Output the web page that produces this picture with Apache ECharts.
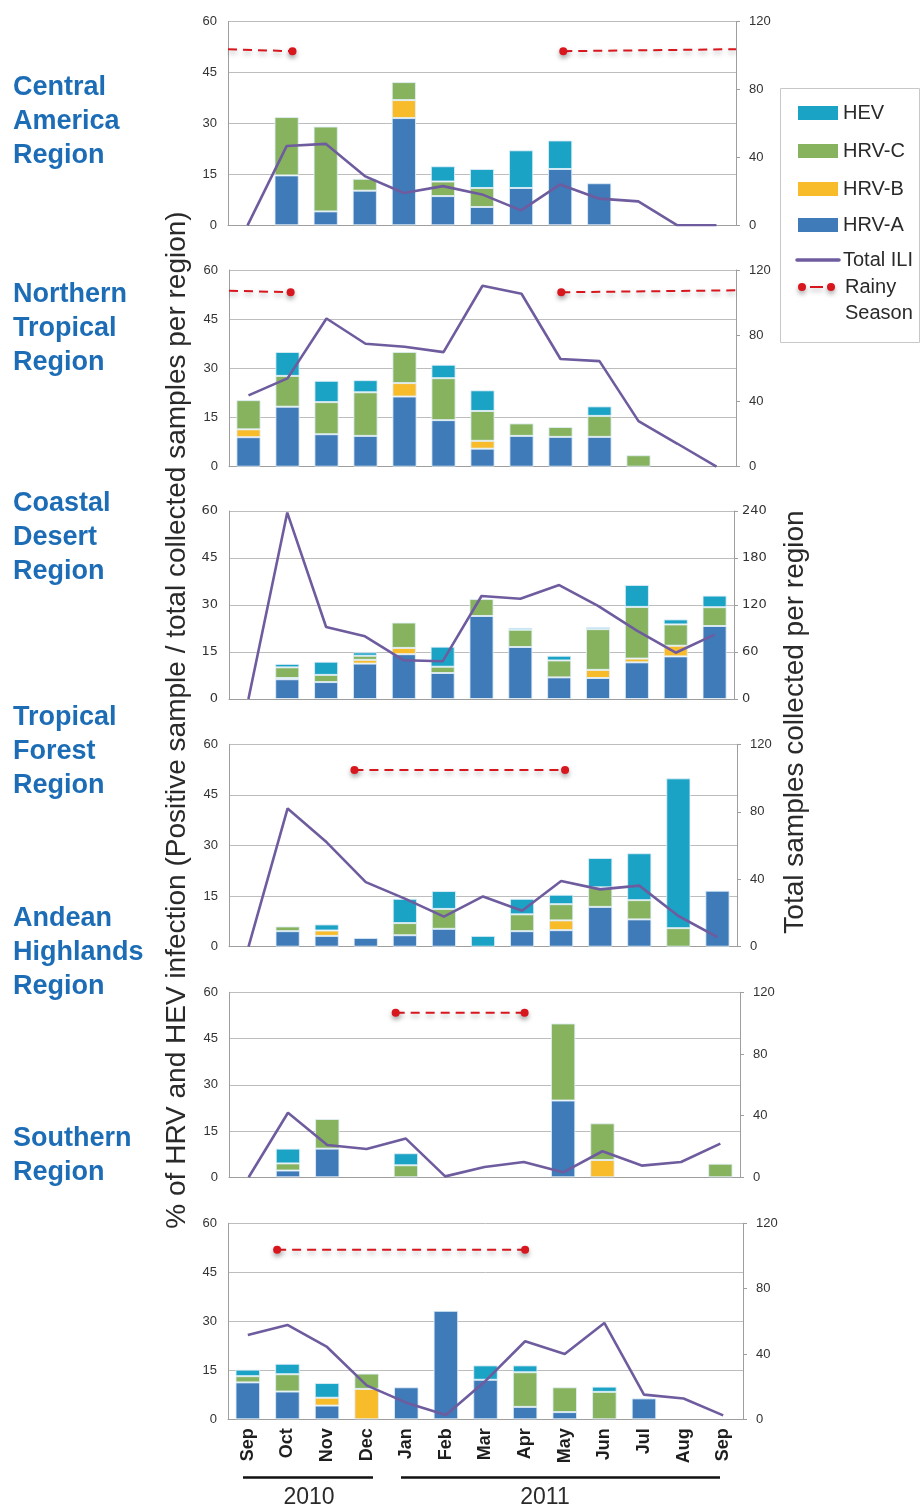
<!DOCTYPE html>
<html>
<head>
<meta charset="utf-8">
<script src="https://cdn.jsdelivr.net/npm/echarts/dist/echarts.min.js"></script>
<style>
  html, body { margin: 0; padding: 0; background: #fff; }
  #chart { width: 922px; height: 1511px; }
</style>
</head>
<body>
<div id="chart"></div>
<script>
// Months of the surveillance period (Sep 2010 – Sep 2011)
const months = ['Sep', 'Oct', 'Nov', 'Dec', 'Jan', 'Feb', 'Mar', 'Apr', 'May', 'Jun', 'Jul', 'Aug', 'Sep'];

// Central America Region (% positive per month; ILI = samples collected)
const centralA   = [0, 14.7, 4.1, 10.2, 31.6, 8.6, 5.4, 11.0, 16.6, 12.4, 0, 0, 0];
const centralB   = [0, 0, 0, 0, 5.3, 0, 0, 0, 0, 0, 0, 0, 0];
const centralC   = [0, 17.2, 25.0, 3.5, 5.3, 4.3, 5.6, 0, 0, 0, 0, 0, 0];
const centralHEV = [0, 0, 0, 0, 0, 4.5, 5.6, 11.1, 8.4, 0, 0, 0, 0];
const centralILI = [0, 46.7, 48.0, 29.0, 19.0, 23.1, 18.2, 8.8, 24.1, 15.7, 14.1, 0, 0];

// Northern Tropical Region
const northA   = [9.0, 18.3, 9.9, 9.4, 21.4, 14.2, 5.5, 9.4, 9.1, 9.1, 0, 0, 0];
const northB   = [2.4, 0, 0, 0, 4.1, 0, 2.4, 0, 0, 0, 0, 0, 0];
const northC   = [8.9, 9.4, 9.8, 13.3, 9.5, 12.8, 9.1, 3.8, 3.0, 6.4, 3.5, 0, 0];
const northHEV = [0, 7.3, 6.5, 3.7, 0, 4.1, 6.3, 0, 0, 2.9, 0, 0, 0];
const northILI = [43.5, 53.9, 90.4, 75.0, 73.2, 69.9, 110.4, 105.5, 65.7, 64.4, 27.8, 14.0, 0];

// Coastal Desert Region
const coastA   = [0, 6.3, 5.4, 11.3, 14.3, 8.3, 26.5, 16.6, 6.9, 6.7, 11.7, 13.6, 23.3];
const coastB   = [0, 0.4, 0, 1.2, 2.0, 0, 0, 0, 0, 2.6, 1.2, 3.4, 0];
const coastC   = [0, 3.4, 2.3, 1.3, 8.1, 2.0, 5.4, 5.5, 5.4, 13.0, 16.5, 6.8, 6.0];
const coastHEV = [0, 1.1, 4.2, 1.1, 0, 6.4, 0, 0.6, 1.5, 0.6, 7.0, 1.6, 3.7];
const coastILI = [0, 238, 91.9, 80, 49.4, 48.1, 131.5, 128, 145.5, 119, 87.2, 59.1, 82.1];

// Tropical Forest Region
const forestA   = [0, 4.6, 3.2, 2.6, 3.4, 5.3, 0, 4.6, 4.9, 11.8, 8.1, 0, 16.6];
const forestB   = [0, 0, 1.6, 0, 0, 0, 0, 0, 2.9, 0, 0, 0, 0];
const forestC   = [0, 1.4, 0, 0, 3.6, 5.9, 0, 5.0, 4.8, 5.8, 5.7, 5.5, 0];
const forestHEV = [0, 0, 1.8, 0, 7.2, 5.3, 3.2, 4.6, 2.8, 8.7, 13.9, 44.4, 0];
const forestILI = [0, 82.0, 61.9, 38.3, 28.5, 17.8, 29.8, 21.3, 38.9, 34.0, 36.2, 18.2, 5.7];

// Andean Highlands Region
const andesA   = [0, 2.2, 9.3, 0, 0, 0, 0, 0, 24.9, 0, 0, 0, 0];
const andesB   = [0, 0, 0, 0, 0, 0, 0, 0, 0, 5.6, 0, 0, 0];
const andesC   = [0, 2.3, 9.6, 0, 3.9, 0, 0, 0, 25.0, 11.9, 0, 0, 4.4];
const andesHEV = [0, 4.8, 0, 0, 3.9, 0, 0, 0, 0, 0, 0, 0, 0];
const andesILI = [0, 41.9, 21.0, 18.4, 25.1, 0.6, 6.7, 9.9, 3.2, 16.9, 7.6, 9.9, 21.8];

// Southern Region
const southA   = [11.3, 8.5, 4.2, 0, 9.8, 33.2, 12.1, 3.8, 2.2, 0, 6.4, 0, 0];
const southB   = [0, 0, 2.4, 9.3, 0, 0, 0, 0, 0, 0, 0, 0, 0];
const southC   = [1.9, 5.3, 0, 4.7, 0, 0, 0, 10.6, 7.6, 8.4, 0, 0, 0];
const southHEV = [2.0, 3.2, 4.5, 0, 0, 0, 4.4, 2.1, 0, 1.6, 0, 0, 0];
const southILI = [51.6, 57.8, 44.3, 20.8, 10.2, 2.7, 23.5, 47.8, 40.0, 59.0, 15.1, 12.7, 2.4];

// Rainy season spans: [[monthPos, %], [monthPos, %]] on a 0–13 month scale
const centralRain = [[[0, 51.9], [1.65, 51.3]], [[8.58, 51.3], [13, 51.9]]];
const northRain   = [[[0, 53.7], [1.58, 53.2]], [[8.52, 53.2], [13, 53.8]]];
const coastRain   = [];
const forestRain  = [[[3.21, 52.4], [8.6, 52.4]]];
const andesRain   = [[[4.24, 53.4], [7.52, 53.4]]];
const southRain   = [[[1.24, 51.9], [7.5, 51.9]]];

// Right-axis scales (total samples) per region
const rightMax      = [120, 120, 240, 120, 120, 120];
const rightInterval = [40, 40, 60, 40, 40, 40];

const regions = [
  { label: 'Central\nAmerica\nRegion',     A: centralA, B: centralB, C: centralC, HEV: centralHEV, ILI: centralILI, rain: centralRain },
  { label: 'Northern\nTropical\nRegion',   A: northA,   B: northB,   C: northC,   HEV: northHEV,   ILI: northILI,   rain: northRain },
  { label: 'Coastal\nDesert\nRegion',      A: coastA,   B: coastB,   C: coastC,   HEV: coastHEV,   ILI: coastILI,   rain: coastRain },
  { label: 'Tropical\nForest\nRegion',     A: forestA,  B: forestB,  C: forestC,  HEV: forestHEV,  ILI: forestILI,  rain: forestRain },
  { label: 'Andean\nHighlands\nRegion',    A: andesA,   B: andesB,   C: andesC,   HEV: andesHEV,   ILI: andesILI,   rain: andesRain },
  { label: 'Southern\nRegion',             A: southA,   B: southB,   C: southC,   HEV: southHEV,   ILI: southILI,   rain: southRain }
];

// Panel placement (pixels) and region-label placement
const layout = [
  { left: 228, right: 736, top: 21.7,   bottom: 225.3,  labelTop: 71 },
  { left: 229, right: 736, top: 270,    bottom: 466.7,  labelTop: 278 },
  { left: 229, right: 734, top: 511,    bottom: 699,    labelTop: 487 },
  { left: 229, right: 737, top: 744.3,  bottom: 946.7,  labelTop: 701 },
  { left: 229, right: 740, top: 992.3,  bottom: 1177.3, labelTop: 902 },
  { left: 228, right: 743, top: 1223.3, bottom: 1419.3, labelTop: 1122 }
];

const COLORS = {
  A: '#3f7ab9', B: '#f8bc2b', C: '#87b35e', HEV: '#1aa3c4',
  ili: '#6e5c9f', rain: '#d8161e', grid: '#bdbdbd', axis: '#9e9e9e',
  region: '#1c6db6', text: '#2a2a2a'
};
const FONT = '"Liberation Sans", Arial, sans-serif';
const FONT_ALT = '"DejaVu Sans", Verdana, sans-serif';

const grids = [], xAxes = [], yAxes = [], series = [];
const stackKeys = [['A', 'HRV-A'], ['B', 'HRV-B'], ['C', 'HRV-C'], ['HEV', 'HEV']];

regions.forEach((r, g) => {
  const L = layout[g];
  const isLast = g === regions.length - 1;
  const tickFont = g === 2 ? FONT_ALT : FONT;
  grids.push({ left: L.left, top: L.top, width: L.right - L.left, height: L.bottom - L.top });

  // category axis for bars and ILI line
  xAxes.push({
    type: 'category', gridIndex: g, data: months, boundaryGap: true,
    axisLine: { show: true, lineStyle: { color: COLORS.axis, width: 1 } },
    axisTick: { show: false },
    axisLabel: isLast ? {
      show: true, rotate: 90, interval: 0, margin: 9,
      fontFamily: FONT, fontWeight: 'bold', fontSize: 18, color: '#1e1e1e'
    } : { show: false }
  });
  // continuous month scale for rainy-season spans
  xAxes.push({ type: 'value', gridIndex: g, min: 0, max: 13, show: false });

  yAxes.push({
    type: 'value', gridIndex: g, position: 'left', min: 0, max: 60, interval: 15,
    axisLine: { show: true, lineStyle: { color: COLORS.axis } },
    axisTick: { show: false },
    splitLine: { show: true, lineStyle: { color: COLORS.grid, width: 1 } },
    axisLabel: { color: '#333', fontSize: 13, margin: 11, fontFamily: tickFont }
  });
  yAxes.push({
    type: 'value', gridIndex: g, position: 'right', min: 0, max: rightMax[g], interval: rightInterval[g],
    axisLine: { show: true, lineStyle: { color: COLORS.axis } },
    axisTick: { show: true, length: 4, lineStyle: { color: COLORS.axis } },
    splitLine: { show: false },
    axisLabel: { color: '#333', fontSize: 13, margin: g === 2 ? 8 : 13, fontFamily: tickFont }
  });

  stackKeys.forEach(([k, name]) => {
    series.push({
      type: 'bar', name, stack: 'panel' + g,
      xAxisIndex: 2 * g, yAxisIndex: 2 * g,
      barWidth: '62%',
      data: r[k].map(v => (v === 0 ? '-' : v)),
      itemStyle: { color: COLORS[k], borderColor: 'rgba(225,238,248,0.85)', borderWidth: 1 },
      emphasis: { disabled: true }, z: 2
    });
  });

  series.push({
    type: 'line', name: 'Total ILI',
    xAxisIndex: 2 * g, yAxisIndex: 2 * g + 1,
    data: r.ILI, symbol: 'none', smooth: false,
    lineStyle: { color: COLORS.ili, width: 2.6 },
    z: 4
  });

  r.rain.forEach(seg => {
    series.push({
      type: 'line', name: 'Rainy Season',
      xAxisIndex: 2 * g + 1, yAxisIndex: 2 * g,
      data: seg.map(p => ({
        value: p,
        symbol: (p[0] <= 0 || p[0] >= 13) ? 'none' : 'circle'
      })),
      symbolSize: 8,
      itemStyle: { color: COLORS.rain, shadowColor: 'rgba(0,0,0,0.35)', shadowBlur: 5, shadowOffsetY: 3 },
      lineStyle: { color: COLORS.rain, width: 2, type: [9, 6], shadowColor: 'rgba(0,0,0,0.3)', shadowBlur: 5, shadowOffsetY: 3 },
      z: 5
    });
  });
});

// Region names down the left side
const graphics = regions.map((r, g) => ({
  type: 'text', left: 13, top: layout[g].labelTop,
  style: { text: r.label, font: 'bold 27px ' + FONT, fill: COLORS.region, lineHeight: 34 }
}));

// Axis titles
graphics.push({
  type: 'text', x: 177, y: 720, rotation: Math.PI / 2,
  style: {
    text: '% of HRV and HEV infection (Positive sample / total collected samples per region)',
    font: '28px ' + FONT, fill: COLORS.text, align: 'center', verticalAlign: 'middle'
  }
});
graphics.push({
  type: 'text', x: 795, y: 722, rotation: Math.PI / 2,
  style: {
    text: 'Total samples collected per region',
    font: '28px ' + FONT, fill: COLORS.text, align: 'center', verticalAlign: 'middle'
  }
});

// Year brackets under the month axis
graphics.push(
  { type: 'line', shape: { x1: 243, y1: 1477.5, x2: 373, y2: 1477.5 }, style: { stroke: '#111', lineWidth: 2.5 } },
  { type: 'line', shape: { x1: 401, y1: 1477.5, x2: 720, y2: 1477.5 }, style: { stroke: '#111', lineWidth: 2.5 } },
  { type: 'text', x: 309, y: 1498, style: { text: '2010', font: '23px ' + FONT, fill: COLORS.text, align: 'center', verticalAlign: 'middle' } },
  { type: 'text', x: 545, y: 1498, style: { text: '2011', font: '23px ' + FONT, fill: COLORS.text, align: 'center', verticalAlign: 'middle' } }
);

// Legend panel
const legendItems = [['HEV', COLORS.HEV, 113], ['HRV-C', COLORS.C, 151], ['HRV-B', COLORS.B, 189], ['HRV-A', COLORS.A, 225]];
const legendChildren = [
  { type: 'rect', shape: { x: 780.5, y: 88.5, width: 139, height: 254 }, style: { fill: '#fff', stroke: '#c8c8c8', lineWidth: 1 } }
];
legendItems.forEach(([name, color, cy]) => {
  legendChildren.push(
    { type: 'rect', shape: { x: 798, y: cy - 7, width: 40, height: 14 }, style: { fill: color } },
    { type: 'text', x: 843, y: cy, style: { text: name, font: '20px ' + FONT, fill: COLORS.text, verticalAlign: 'middle' } }
  );
});
legendChildren.push(
  { type: 'line', shape: { x1: 797, y1: 260, x2: 839, y2: 260 }, style: { stroke: COLORS.ili, lineWidth: 3.5, lineCap: 'round' } },
  { type: 'text', x: 843, y: 260, style: { text: 'Total ILI', font: '20px ' + FONT, fill: COLORS.text, verticalAlign: 'middle' } },
  { type: 'line', shape: { x1: 810, y1: 287, x2: 823, y2: 287 }, style: { stroke: COLORS.rain, lineWidth: 2, shadowColor: 'rgba(0,0,0,0.3)', shadowBlur: 5, shadowOffsetY: 3 } },
  { type: 'circle', shape: { cx: 802, cy: 287, r: 4 }, style: { fill: COLORS.rain, shadowColor: 'rgba(0,0,0,0.35)', shadowBlur: 5, shadowOffsetY: 3 } },
  { type: 'circle', shape: { cx: 831, cy: 287, r: 4 }, style: { fill: COLORS.rain, shadowColor: 'rgba(0,0,0,0.35)', shadowBlur: 5, shadowOffsetY: 3 } },
  { type: 'text', x: 845, y: 274, style: { text: 'Rainy\nSeason', font: '20px ' + FONT, fill: COLORS.text, lineHeight: 26 } }
);
graphics.push({ type: 'group', children: legendChildren });

const chart = echarts.init(document.getElementById('chart'), null, { renderer: 'canvas' });
chart.setOption({
  animation: false,
  backgroundColor: '#ffffff',
  textStyle: { fontFamily: FONT },
  grid: grids,
  xAxis: xAxes,
  yAxis: yAxes,
  series,
  graphic: graphics
});
</script>
</body>
</html>
